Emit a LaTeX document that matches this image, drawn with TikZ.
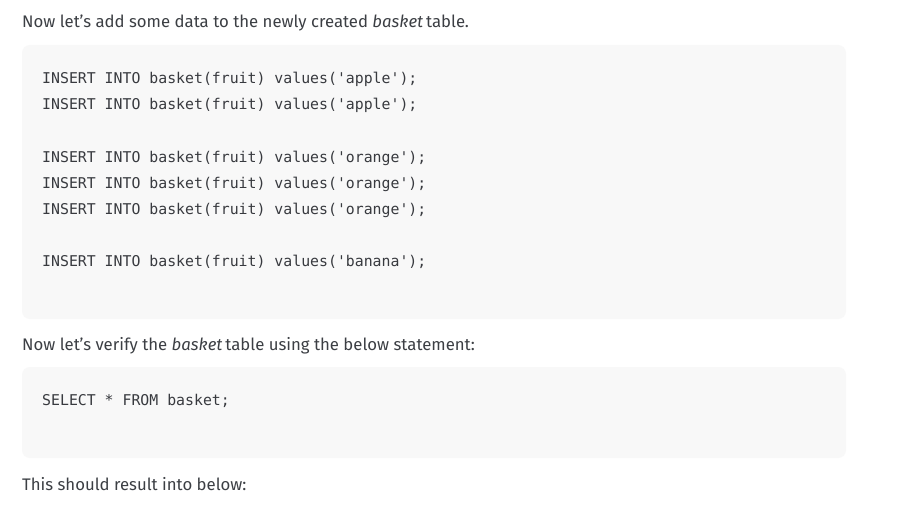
\documentclass[tikz,border=0pt]{standalone}
\usepackage{fontspec}
\setmainfont{Fira Sans}
\newfontfamily\codefont{DejaVu Sans Mono}
\definecolor{txt}{HTML}{3C3F44}
\definecolor{codetxt}{HTML}{383A3F}
\definecolor{codebg}{HTML}{F8F8F8}
\tikzset{
  para/.style={anchor=base west, inner sep=0pt, text=txt, font=\fontsize{16.75}{20}\selectfont},
  code/.style={anchor=base west, inner sep=0pt, text=codetxt, font=\codefont\fontsize{14.84}{18}\selectfont},
  codebox/.style={fill=codebg, draw=none, rounded corners=8pt}
}
\newcommand{\q}{\textquotesingle}
\begin{document}
\begin{tikzpicture}[x=1pt,y=-1pt]
\useasboundingbox[fill=white] (0,0) rectangle (902,516);
\fill[codebox] (22,45) rectangle (846,319);
\fill[codebox] (22,367) rectangle (846,458);
\node[para] (p1) at (22,28) {Now let’s add some data to the newly created \textit{basket}\hspace{3pt}table.};
\node[code] (c1) at (42,84) {INSERT INTO basket(fruit) values(\q apple\q);};
\node[code] (c2) at (42,110) {INSERT INTO basket(fruit) values(\q apple\q);};
\node[code] (c3) at (42,162) {INSERT INTO basket(fruit) values(\q orange\q);};
\node[code] (c4) at (42,188) {INSERT INTO basket(fruit) values(\q orange\q);};
\node[code] (c5) at (42,214) {INSERT INTO basket(fruit) values(\q orange\q);};
\node[code] (c6) at (42,266) {INSERT INTO basket(fruit) values(\q banana\q);};
\node[para] (p2) at (22,350) {Now let’s verify the \textit{basket}\hspace{3pt}table using the below statement:};
\node[code] (c7) at (42,405) {SELECT * FROM basket;};
\node[para] (p3) at (22,490) {This should result into below:};
\end{tikzpicture}
\end{document}
